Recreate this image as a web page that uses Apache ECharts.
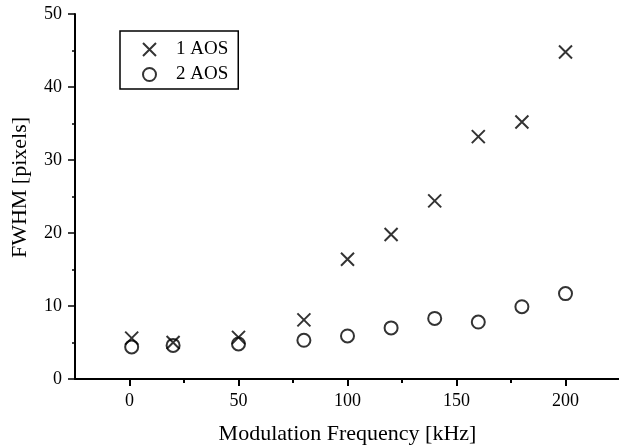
<!DOCTYPE html>
<html>
<head>
<meta charset="utf-8">
<script src="https://cdn.jsdelivr.net/npm/echarts@6/dist/echarts.min.js"></script>
<style>
html,body{margin:0;padding:0;background:#fff;}
#c{width:619px;height:446px;}
</style>
</head>
<body>
<div id="c"></div>
<script>
// Data
var freq1 = [1, 20, 50, 80, 100, 120, 140, 160, 180, 200];
var aos1 = [5.6, 5.0, 5.7, 8.1, 16.4, 19.8, 24.4, 33.2, 35.2, 44.8];
var freq2 = [1, 20, 50, 80, 100, 120, 140, 160, 180, 200];
var aos2 = [4.4, 4.6, 4.8, 5.3, 5.9, 7.0, 8.3, 7.8, 9.9, 11.7];
var xMajorTicks = [0, 50, 100, 150, 200];
var xMinorTicks = [25, 75, 125, 175];
var seriesNames = ['1 AOS', '2 AOS'];
var xTitle = 'Modulation Frequency [kHz]';
var yTitle = 'FWHM [pixels]';

function pairs(xs, ys) { return xs.map(function (x, i) { return [x, ys[i]]; }); }

var font = '"Liberation Serif", "DejaVu Serif", serif';
var crossPath = 'path://M0,0L10,10M10,0L0,10';

var chart = echarts.init(document.getElementById('c'), null, {renderer: 'canvas'});
chart.setOption({
  animation: false,
  backgroundColor: '#fff',
  grid: {left: 75, top: 14, width: 545, height: 365, containLabel: false, outerBoundsMode: 'none'},
  legend: {
    orient: 'vertical',
    left: 120, top: 31,
    padding: [9, 10, 5, 22],
    itemGap: 6,
    itemWidth: 13, itemHeight: 13,
    borderColor: '#000', borderWidth: 1.5, borderRadius: 0,
    textStyle: {fontFamily: font, fontSize: 19, color: '#000', padding: [0, 0, 0, 15]},
    data: seriesNames
  },
  xAxis: [{
    type: 'value', min: -25, max: 225, position: 'bottom',
    axisLine: {show: true, onZero: false, lineStyle: {color: '#000', width: 2}},
    axisTick: {show: true, customValues: xMajorTicks, length: 7, inside: false, lineStyle: {color: '#000', width: 2}},
    axisLabel: {customValues: xMajorTicks, margin: 13, fontFamily: font, fontSize: 18, color: '#000'},
    splitLine: {show: false},
    name: xTitle, nameLocation: 'middle', nameGap: 44,
    nameTextStyle: {fontFamily: font, fontSize: 22, color: '#000'}
  }, {
    type: 'value', min: -25, max: 225, position: 'bottom', offset: 0,
    axisLine: {show: false},
    axisTick: {show: true, customValues: xMinorTicks, length: 4, lineStyle: {color: '#000', width: 2}},
    axisLabel: {show: false},
    splitLine: {show: false}
  }],
  yAxis: {
    type: 'value', min: 0, max: 50, interval: 10,
    axisLine: {show: true, onZero: false, lineStyle: {color: '#000', width: 2}},
    axisTick: {show: true, length: 7, lineStyle: {color: '#000', width: 1.5}},
    minorTick: {show: true, splitNumber: 2, length: 3, lineStyle: {color: '#000', width: 1.5}},
    axisLabel: {margin: 13, fontFamily: font, fontSize: 18, color: '#000'},
    splitLine: {show: false},
    name: yTitle, nameLocation: 'middle', nameGap: 44,
    nameTextStyle: {fontFamily: font, fontSize: 22, color: '#000', padding: [0, 0, 0, 18]}
  },
  series: [{
    name: seriesNames[0], type: 'scatter', xAxisIndex: 0,
    symbol: crossPath, symbolSize: 13,
    itemStyle: {color: 'rgba(0,0,0,0)', borderColor: '#000', borderWidth: 2},
    data: pairs(freq1, aos1), z: 3
  }, {
    name: seriesNames[1], type: 'scatter', xAxisIndex: 0,
    symbol: 'circle', symbolSize: 13,
    itemStyle: {color: 'rgba(0,0,0,0)', borderColor: '#000', borderWidth: 2},
    data: pairs(freq2, aos2), z: 2
  }]
});
</script>
</body>
</html>
